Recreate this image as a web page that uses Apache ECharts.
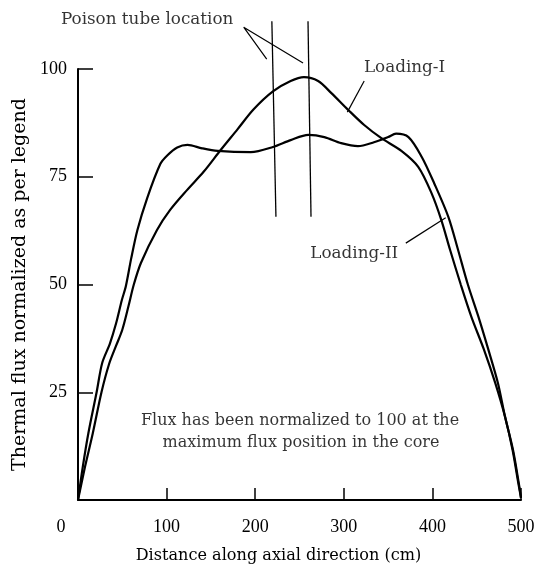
<!DOCTYPE html>
<html>
<head>
<meta charset="utf-8">
<script src="https://cdn.jsdelivr.net/npm/echarts@6/dist/echarts.min.js"></script>
<style>
  html, body { margin: 0; padding: 0; background: #fff; }
  #chart { width: 538px; height: 569px; }
</style>
</head>
<body>
<div id="chart"></div>
<script>
// distances (cm) and normalized flux
const loadingIX = [0, 7.9, 16.7, 26.5, 35, 43, 50, 57, 63, 71, 89, 104, 123, 142, 161, 180, 198, 220, 240, 255, 271, 286, 305, 323, 342, 365, 384, 399, 410, 420, 432, 444, 458, 471, 482, 490.5, 497, 500];
const loadingIY = [0, 7.7, 15.5, 25, 31.5, 35.8, 39.5, 45, 50, 55, 62.6, 67.3, 71.9, 76.2, 81.2, 86, 90.6, 94.8, 97.2, 98.1, 97.2, 94.4, 90.5, 87, 84, 81, 77.3, 71.2, 65, 58, 50, 42.5, 35, 27.1, 19.3, 11.6, 3.9, 0.5];

const loadingIIX = [0, 5.4, 11.7, 21, 27.3, 36, 43, 49.5, 54, 60, 67, 78, 93, 101, 112, 123.6, 140, 157.6, 195, 220, 240, 260, 278, 297, 316, 334, 350, 359, 373, 388, 402, 418, 429, 440, 452, 463, 474, 482, 491, 497.5, 500];
const loadingIIY = [0, 7.7, 15.5, 25, 31.8, 36.3, 41, 46.4, 49.6, 56, 62.6, 70, 78, 80, 81.8, 82.4, 81.6, 81, 80.7, 81.9, 83.5, 84.7, 84.2, 82.8, 82.1, 83, 84.2, 85, 84.2, 79.6, 73.5, 65.7, 58, 50, 42.5, 35, 27.1, 19.3, 11.6, 3.9, 0.5];

// poison tube positions (cm), drawn from top to bottom
const tubeX = [[218.8, 223.4], [259.6, 263]];
const tubeY = [111.1, 65.7];

const xTicks = [0, 100, 200, 300, 400, 500];
const yTicks = [25, 50, 75, 100];

const serif = "Liberation Serif";
const textFont = "DejaVu Serif";
const ink = "#000";

const zip = (xs, ys) => xs.map((x, i) => [x, ys[i]]);

const lineSeries = (data, width) => ({
    type: "line",
    data: data,
    showSymbol: false,
    symbol: "none",
    clip: false,
    silent: true,
    lineStyle: { color: ink, width: width },
});

const textSeries = (x, y, text, size) => ({
    type: "scatter",
    data: [[x, y]],
    symbolSize: 0,
    clip: false,
    silent: true,
    label: {
        show: true,
        position: "inside",
        formatter: text,
        color: ink,
        textBorderWidth: 0,
        fontFamily: textFont,
        fontSize: size || 16.8,
    },
});

const chart = echarts.init(document.getElementById("chart"));

chart.setOption({
    animation: false,
    backgroundColor: "#fff",
    grid: { left: 78, right: 17, top: 69, bottom: 69 },
    xAxis: {
        type: "value",
        min: xTicks[0],
        max: xTicks[xTicks.length - 1],
        interval: 100,
        name: "Distance along axial direction (cm)",
        nameLocation: "middle",
        nameGap: 48,
        nameTextStyle: { fontFamily: textFont, fontSize: 16.1, color: ink, padding: [0, 42, 0, 0] },
        axisLine: { lineStyle: { color: ink, width: 2 } },
        axisTick: { inside: true, length: 12, lineStyle: { color: ink, width: 1.5 } },
        axisLabel: {
            fontFamily: serif,
            fontSize: 18,
            color: ink,
            margin: 18,
            formatter: (v) => (v === 0 ? "{z|0}" : String(v)),
            rich: { z: { fontFamily: serif, fontSize: 18, color: ink, padding: [0, 34, 0, 0] } },
        },
        splitLine: { show: false },
    },
    yAxis: {
        type: "value",
        min: 0,
        max: yTicks[yTicks.length - 1],
        interval: 25,
        name: "Thermal flux normalized as per legend",
        nameLocation: "middle",
        nameGap: 46,
        nameTextStyle: { fontFamily: textFont, fontSize: 19, color: ink },
        axisLine: { show: true, lineStyle: { color: ink, width: 2 } },
        axisTick: { show: true, inside: true, length: 15, lineStyle: { color: ink, width: 1.5 } },
        axisLabel: {
            fontFamily: serif,
            fontSize: 18,
            color: ink,
            margin: 11,
            formatter: (v) => (v === 0 ? "" : String(v)),
        },
        splitLine: { show: false },
    },
    series: [
        Object.assign(lineSeries(zip(loadingIX, loadingIY), 2.2), { name: "Loading-I", smooth: 0.3 }),
        Object.assign(lineSeries(zip(loadingIIX, loadingIIY), 2.2), { name: "Loading-II", smooth: 0.3 }),
        lineSeries(zip(tubeX[0], tubeY), 1.3),
        lineSeries(zip(tubeX[1], tubeY), 1.3),
        // leader lines
        lineSeries([[213, 102.3], [187, 109.7], [254, 101.4]], 1.2),
        lineSeries([[323, 97.2], [304, 90]], 1.2),
        lineSeries([[370, 59.6], [415, 65.5]], 1.2),
        textSeries(78, 111.4, "Poison tube location"),
        textSeries(368.5, 100.2, "Loading-I"),
        textSeries(311.8, 57.1, "Loading-II"),
        textSeries(250.6, 18.3, "Flux has been normalized to 100 at the", 16),
        textSeries(251.7, 13.2, "maximum flux position in the core", 16),
    ],
});
</script>
</body>
</html>
